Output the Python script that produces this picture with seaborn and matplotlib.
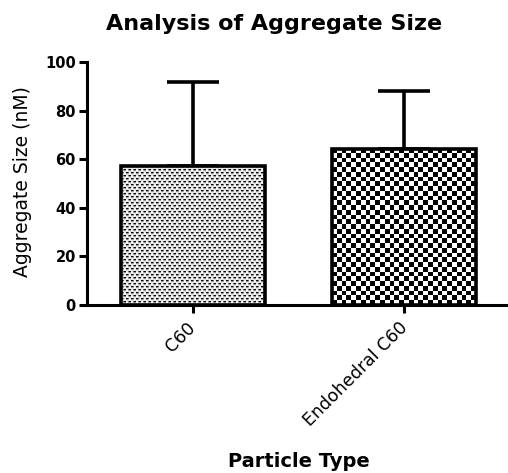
import numpy as np
import pandas as pd
import matplotlib
matplotlib.use("Agg")
import matplotlib.pyplot as plt
import matplotlib.transforms as mtransforms
import seaborn as sns

categories = ["C60", "Endohedral C60"]
means = [57.2, 64.2]
sd_upper = [34.6, 23.9]
y_ticks = [0, 20, 40, 60, 80, 100]

sns.set_theme(style="ticks")
plt.rcParams["font.family"] = ["DejaVu Sans"]
plt.rcParams["text.color"] = "black"
plt.rcParams["axes.labelcolor"] = "black"
plt.rcParams["xtick.color"] = "black"
plt.rcParams["ytick.color"] = "black"

df = pd.DataFrame({"Particle Type": categories, "Aggregate Size": means})

fig = plt.figure(figsize=(5.08, 4.73), dpi=100)
ax = fig.add_axes([87 / 508, 1 - 305 / 473, 1 - 87 / 508, (305 - 62) / 473])

sns.barplot(data=df, x="Particle Type", y="Aggregate Size", ax=ax,
            width=0.68, color="white", edgecolor="black", linewidth=2.6,
            errorbar=None, zorder=2)
for p in ax.patches:
    p.set_facecolor("none")

# one-sided (upper) error bars
ax.errorbar(range(len(categories)), means, yerr=[[0] * len(means), sd_upper],
            fmt="none", ecolor="black", elinewidth=2.6, capsize=18.5,
            capthick=2.6, zorder=1)

ax.set_xlim(-0.5, 1.49)
ax.set_ylim(0, 100)
ax.set_yticks(y_ticks)

# pixel-scale fill textures clipped to each bar
fine_tile = np.array([
    [0.05, 0.05, 0.40, 0.90, 0.90],
    [0.55, 0.55, 0.70, 1.00, 1.00],
    [0.90, 0.90, 0.90, 0.90, 0.90],
    [0.90, 0.90, 0.40, 0.05, 0.05],
    [1.00, 1.00, 0.70, 0.55, 0.55],
    [0.90, 0.90, 0.90, 0.90, 0.90],
])


def fill_pattern(patch, kind):
    bb = patch.get_window_extent(renderer=fig.canvas.get_renderer())
    if kind == "fine":
        w, h = int(round(bb.width)), int(round(bb.height))
        reps = (h // fine_tile.shape[0] + 1, w // fine_tile.shape[1] + 1)
        arr = np.tile(fine_tile, reps)[:h, :w]
    else:
        cell = 4.75
        w = max(int(round(bb.width / cell)), 1)
        h = max(int(round(bb.height / cell)), 1)
        jj, ii = np.meshgrid(np.arange(w), np.arange(h))
        arr = np.where((ii + jj) % 2 == 0, 0.0, 1.0)
    x0, y0 = patch.get_x(), patch.get_y()
    im = ax.imshow(arr, cmap="gray", vmin=0, vmax=1, interpolation="nearest",
                   extent=[x0, x0 + patch.get_width(), y0, y0 + patch.get_height()],
                   aspect="auto", zorder=1.5)
    im.set_clip_path(patch)


fig.canvas.draw()
bars = list(ax.patches)
fill_pattern(bars[0], "fine")
fill_pattern(bars[1], "checker")
ax.set_xlim(-0.5, 1.49)
ax.set_ylim(0, 100)

sns.despine(ax=ax, right=True, top=True)
for s in ["left", "bottom"]:
    ax.spines[s].set_linewidth(2.2)
    ax.spines[s].set_color("black")
ax.tick_params(axis="both", width=2.2, length=6, color="black", direction="out")
ax.tick_params(axis="y", labelsize=10.5, pad=2)
for lab in ax.get_yticklabels():
    lab.set_fontweight("bold")
ax.set_xticks(range(len(categories)))
ax.set_xticklabels(categories, rotation=45, ha="right", rotation_mode="anchor",
                   fontsize=12.5)
ax.tick_params(axis="x", pad=4)
shift = mtransforms.ScaledTranslation(-6 / 100, 0, fig.dpi_scale_trans)
for lab in ax.get_xticklabels():
    lab.set_transform(lab.get_transform() + shift)

ax.set_ylabel("Aggregate Size (nM)", fontsize=13.5, va="center")
ax.yaxis.set_label_coords(-0.154, 0.51)
ax.set_xlabel("Particle Type", fontsize=14, fontweight="bold", va="center")
ax.xaxis.set_label_coords(0.504, -0.642)
fig.text(274 / 508, 1 - 24 / 473, "Analysis of Aggregate Size", ha="center",
         va="center", fontsize=16, fontweight="bold")

fig.savefig("out.png", dpi=100)
